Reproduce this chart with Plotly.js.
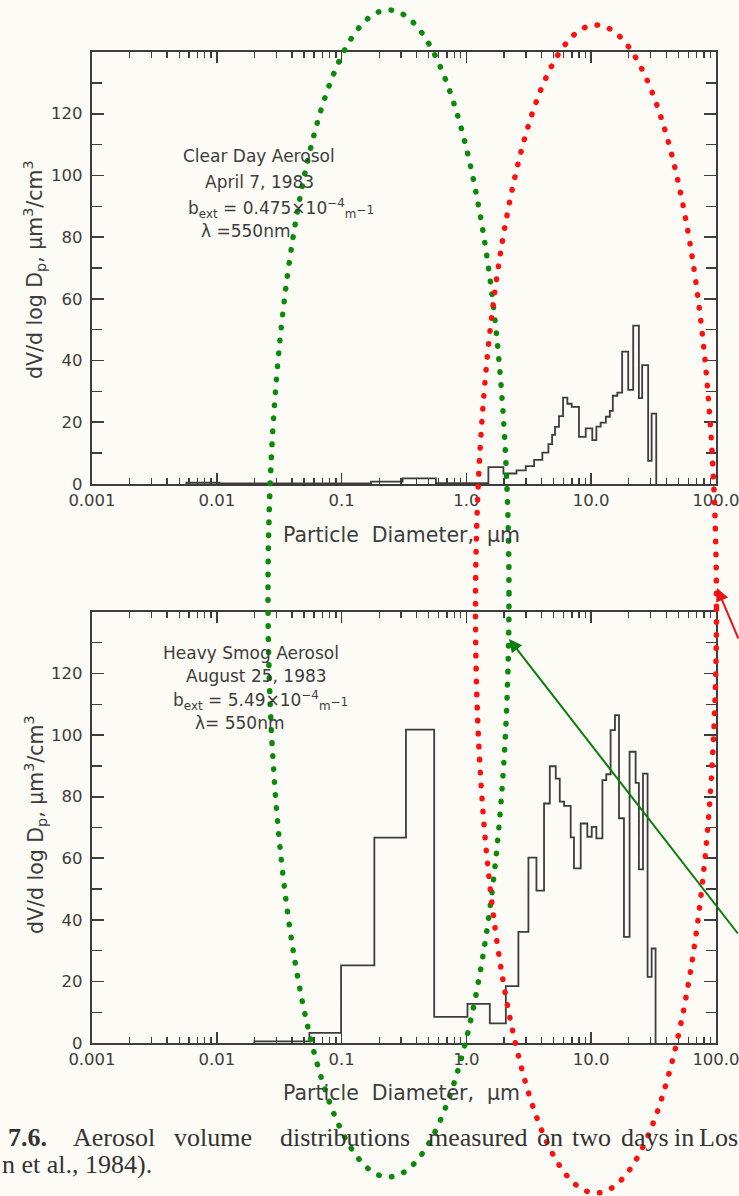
<!DOCTYPE html>
<html><head><meta charset="utf-8">
<script src="https://cdn.plot.ly/plotly-3.0.1.min.js"></script>
<style>html,body{margin:0;padding:0;background:#fcfbf5;}#chart{width:739px;height:1196px;}</style>
</head><body><div id="chart"></div>
<script>
// ---- data ----
const clearEdges = [0.0057, 0.0105, 0.172, 0.308, 0.570, 1.50, 1.98, 2.52, 2.99, 3.49, 4.06, 4.54, 4.86, 5.13, 5.52, 5.95, 6.44, 6.98, 7.98, 9.04, 10.2, 11.0, 11.9, 13.1, 14.1, 14.9, 16.2, 17.7, 19.8, 21.7, 24.1, 25.6, 28.6, 30.5, 33.2];
const clearValues = [0.4, 0.2, 0.8, 1.8, 0.3, 5.5, 3.4, 4.4, 5.8, 7.8, 10.2, 12.9, 15.9, 18.5, 22.0, 28.0, 26.0, 25.0, 15.3, 18.0, 14.2, 18.6, 19.9, 21.8, 23.7, 28.6, 29.6, 42.9, 30.5, 51.3, 27.8, 38.5, 7.5, 22.8];
const smogEdges = [0.02, 0.0552, 0.099, 0.183, 0.328, 0.552, 1.02, 1.54, 2.07, 2.61, 3.14, 3.64, 4.19, 4.66, 5.20, 5.60, 6.06, 6.85, 7.28, 8.24, 9.31, 10.1, 11.0, 12.3, 13.2, 14.3, 15.5, 16.7, 18.3, 20.3, 22.7, 24.1, 26.0, 28.3, 30.5, 32.8];
const smogValues = [0.5, 3.3, 25.2, 66.7, 101.8, 8.5, 12.7, 6.4, 18.5, 36.1, 60.2, 49.5, 77.8, 89.9, 85.9, 78.4, 77.0, 66.8, 56.7, 71.3, 67.0, 70.2, 66.5, 85.4, 87.3, 101.6, 106.5, 73.0, 34.5, 94.6, 84.5, 56.4, 87.5, 21.5, 30.7];
const xTickVals = [0.001, 0.01, 0.1, 1, 10, 100];
const xTickText = ['0.001', '0.01', '0.1', '1.0', '10.0', '100.0'];
const yTickVals = [0, 20, 40, 60, 80, 100, 120];
const minorDigits = [2, 3, 4, 5, 6, 7, 8, 9];
const decades = [0.001, 0.01, 0.1, 1, 10];
const clearNote = ['Clear Day Aerosol', 'April 7, 1983', 'b<sub>ext</sub> = 0.475×10<sup>−4</sup><sub>m</sub><span style="font-size:12px">−1</span>', 'λ =550nm'];
const smogNote = ['Heavy Smog Aerosol', 'August 25, 1983', 'b<sub>ext</sub> = 5.49×10<sup>−4</sup><sub>m</sub><span style="font-size:12px">−1</span>', 'λ= 550nm'];
const captionWords = ['<b>7.6.</b>', 'Aerosol', 'volume', 'distributions', 'measured', 'on', 'two', 'days', 'in', 'Los'];
const captionLine2 = 'n et al., 1984).';

// ---- layout helpers ----
const W = 739, H = 1196;
const px = v => v / W, py = v => 1 - v / H;
const ink = '#3d3d3d';
const font = 'DejaVu Sans';
const minorVals = [];
decades.forEach(d => minorDigits.forEach(m => minorVals.push(d * m)));

function step(edges, values) {
  return { x: [edges[0]].concat(edges), y: [0].concat(values, [0]) };
}
const s1 = step(clearEdges, clearValues), s2 = step(smogEdges, smogValues);
const traces = [
  { x: s1.x, y: s1.y, xaxis: 'x', yaxis: 'y', mode: 'lines', line: { shape: 'hv', color: ink, width: 1.8 }, hoverinfo: 'skip' },
  { x: s2.x, y: s2.y, xaxis: 'x2', yaxis: 'y2', mode: 'lines', line: { shape: 'hv', color: ink, width: 1.8 }, hoverinfo: 'skip' }
];

function xAxis(anchor) {
  return { type: 'log', range: [-3, 2], domain: [px(92), px(716)], anchor: anchor,
    tickmode: 'array', tickvals: xTickVals, ticktext: xTickText, ticklabeloverflow: 'allow',
    ticks: 'inside', ticklen: 11, tickwidth: 1.6, tickcolor: ink,
    showline: true, linecolor: ink, linewidth: 2.2, mirror: 'ticks',
    showgrid: false, zeroline: false, tickfont: { family: font, size: 16.5, color: ink },
    minor: { tickmode: 'array', tickvals: minorVals, ticks: 'inside', ticklen: 6, tickwidth: 1.3, tickcolor: ink, showgrid: false } };
}
function yAxis(anchor, top, bottom) {
  return { range: [0, 140], domain: [py(bottom), py(top)], anchor: anchor,
    tickmode: 'array', tickvals: yTickVals, ticklabelstandoff: 4,
    ticks: 'inside', ticklen: 12, tickwidth: 1.6, tickcolor: ink,
    showline: true, linecolor: ink, linewidth: 2.2, mirror: 'ticks',
    showgrid: false, zeroline: false, tickfont: { family: font, size: 16.5, color: ink },
    minor: { dtick: 10, tick0: 0, ticks: 'inside', ticklen: 10, tickwidth: 1.3, tickcolor: ink, showgrid: false } };
}

const ann = [];
function txt(text, x, y, size, opts) {
  ann.push(Object.assign({ text: text, x: px(x), y: py(y), xref: 'paper', yref: 'paper', showarrow: false,
    xanchor: 'center', yanchor: 'middle', font: { family: font, size: size, color: ink } }, opts || {}));
}
// notes
const clearPos = [[259, 156], [259, 182], [281, 208], [246, 231]];
const smogPos = [[251, 653], [256, 676], [260, 700], [240, 723]];
clearNote.forEach((t, i) => txt(t, clearPos[i][0], clearPos[i][1], 17));
smogNote.forEach((t, i) => txt(t, smogPos[i][0], smogPos[i][1], 17));
// axis titles
const yTitle = 'dV/d log D<sub>p</sub>, μm<sup>3</sup>/cm<sup>3</sup>';
txt(yTitle, 35, 270, 20.5, { textangle: -90 });
txt(yTitle, 35, 825, 20.5, { textangle: -90 });
const xTitle = 'Particle  Diameter,  μm';
txt(xTitle, 402, 535, 20.5);
txt(xTitle, 402, 1093, 20.5);
// caption
const capFont = { family: 'Liberation Serif', size: 26, color: '#333' };
const capX = [27, 114, 213, 345, 478, 550, 591, 645, 684, 718];
captionWords.forEach((w, i) => txt(w, capX[i], 1137, 26, { font: capFont }));
txt(captionLine2, 0, 1164, 26, { xanchor: 'left', font: capFont });
// arrows
ann.push({ text: '', x: px(509), y: py(639), xref: 'paper', yref: 'paper', showarrow: true, ax: 230, ay: 296,
  arrowhead: 2, arrowsize: 1.3, arrowwidth: 2, arrowcolor: '#0b7d0b', standoff: 0 });
ann.push({ text: '', x: px(717), y: py(588), xref: 'paper', yref: 'paper', showarrow: true, ax: 22, ay: 52,
  arrowhead: 2, arrowsize: 1.3, arrowwidth: 2, arrowcolor: '#ee1111', standoff: 0 });

function ellipse(cx, cy, a, b, color) {
  return { type: 'circle', xref: 'paper', yref: 'paper', x0: px(cx - a), x1: px(cx + a), y0: py(cy + b), y1: py(cy - b),
    line: { color: color, width: 5.5, dash: '0.5px,12.5px' }, layer: 'above' };
}
const shapes = [ellipse(388.5, 593.5, 120.5, 583.5, '#0a8a0a'), ellipse(596, 609, 120.5, 584, '#ff1010')];

const layout = {
  width: W, height: H, margin: { l: 0, r: 0, t: 0, b: 0 },
  paper_bgcolor: '#fcfbf5', plot_bgcolor: '#fcfbf5', showlegend: false,
  xaxis: xAxis('y'), yaxis: yAxis('x', 52, 484),
  xaxis2: xAxis('y2'), yaxis2: yAxis('x2', 612, 1043),
  annotations: ann, shapes: shapes
};
Plotly.newPlot('chart', traces, layout, { staticPlot: true }).then(() => {
  document.querySelectorAll('#chart .shapelayer path').forEach(p => {
    p.setAttribute('stroke-linecap', 'round'); p.style.strokeLinecap = 'round';
  });
});
</script></body></html>
